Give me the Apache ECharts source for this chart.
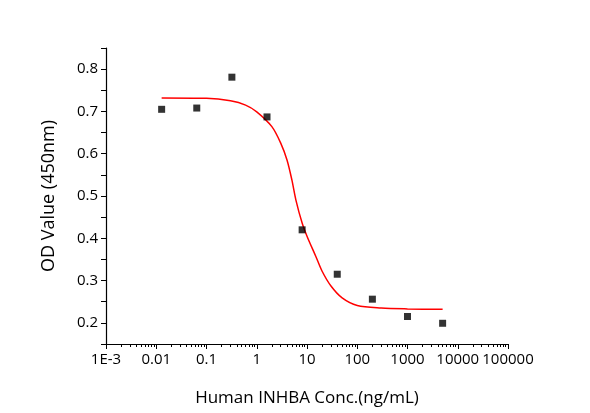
<!DOCTYPE html><html><head><meta charset="utf-8"><script src="https://cdn.jsdelivr.net/npm/echarts@6/dist/echarts.min.js"></script></head><body style="margin:0;background:#fff"><div id="c" style="width:590px;height:413px"></div><script>
const conc=[0.0128,0.064,0.32,1.6,8,40,200,1000,5000];
const od=[0.705,0.708,0.781,0.687,0.420,0.315,0.256,0.215,0.199];
const fitX=[0.0128,0.1,0.3,0.6,1,2,3,4,5,6,8,10,15,20,30,50,100,300,1000,5000];
const fitY=[0.732,0.731,0.725,0.715,0.699,0.664,0.625,0.585,0.538,0.491,0.436,0.405,0.357,0.322,0.287,0.259,0.241,0.235,0.233,0.232];
const xLabels={'-3':'1E-3','-2':'0.01','-1':'0.1','0':'1','1':'10','2':'100','3':'1000','4':'10000','5':'100000'};
const ax={lineStyle:{color:'#000',width:1.2}};
const ch=echarts.init(document.getElementById('c'));
ch.setOption({animation:false,
grid:{left:106,right:82,top:48,bottom:69},
xAxis:{type:'log',logBase:10,min:0.001,max:100000,axisLine:ax,
 axisTick:{inside:false,length:5,lineStyle:{color:'#000'}},
 minorTick:{show:true,splitNumber:9,length:3,lineStyle:{color:'#000'}},
 splitLine:{show:false},
 axisLabel:{color:'#000',fontSize:15,fontFamily:'Open Sans',margin:8,formatter:v=>xLabels[String(Math.round(Math.log10(v)))]||''},
 name:'Human INHBA Conc.(ng/mL)',nameLocation:'middle',nameGap:46,nameTextStyle:{color:'#000',fontSize:17,fontFamily:'Open Sans'}},
yAxis:{type:'value',min:0.15,max:0.85,interval:0.05,axisLine:{show:true,lineStyle:{color:'#000',width:1.2}},
 axisTick:{show:true,length:5,lineStyle:{color:'#000'}},splitLine:{show:false},
 axisLabel:{color:'#000',fontSize:15,fontFamily:'Open Sans',margin:8,formatter:v=>{const r=Math.round(v*100);return (r%10===0&&r>=20&&r<=80)?(r/100).toFixed(1):'';}},
 name:'OD Value (450nm)',nameLocation:'middle',nameGap:48,nameTextStyle:{color:'#000',fontSize:18,fontFamily:'Open Sans'}},
series:[
 {type:'line',data:fitX.map((x,i)=>[x,fitY[i]]),smooth:0.3,showSymbol:false,lineStyle:{color:'#f00',width:1.5},z:1},
 {type:'scatter',data:conc.map((x,i)=>[x,od[i]]),symbol:'rect',symbolSize:7,itemStyle:{color:'#000'},z:2}
]});
</script></body></html>
